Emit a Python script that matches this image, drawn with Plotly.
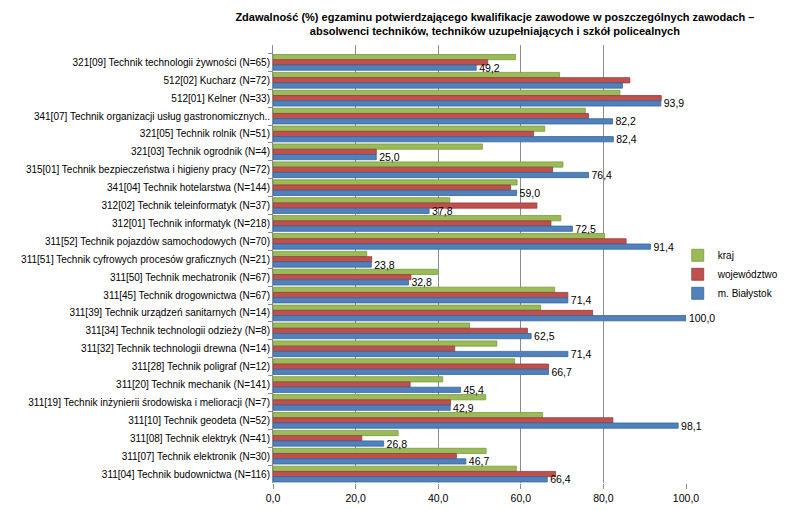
import plotly.graph_objects as go

categories = [
    "321[09] Technik technologii żywności (N=65)",
    "512[02] Kucharz (N=72)",
    "512[01] Kelner (N=33)",
    "341[07] Technik organizacji usług gastronomicznych..",
    "321[05] Technik rolnik (N=51)",
    "321[03] Technik ogrodnik (N=4)",
    "315[01] Technik bezpieczeństwa i higieny pracy (N=72)",
    "341[04] Technik hotelarstwa (N=144)",
    "312[02] Technik teleinformatyk (N=37)",
    "312[01] Technik informatyk (N=218)",
    "311[52] Technik pojazdów samochodowych (N=70)",
    "311[51] Technik cyfrowych procesów graficznych (N=21)",
    "311[50] Technik mechatronik (N=67)",
    "311[45] Technik drogownictwa (N=67)",
    "311[39] Technik urządzeń sanitarnych (N=14)",
    "311[34] Technik technologii odzieży (N=8)",
    "311[32] Technik technologii drewna (N=14)",
    "311[28] Technik poligraf (N=12)",
    "311[20] Technik mechanik (N=141)",
    "311[19] Technik inżynierii środowiska i melioracji (N=7)",
    "311[10] Technik geodeta (N=52)",
    "311[08] Technik elektryk (N=41)",
    "311[07] Technik elektronik (N=30)",
    "311[04] Technik budownictwa (N=116)",
]

kraj = [58.7, 69.4, 84.0, 75.6, 65.8, 50.7, 70.2, 59.1, 42.8, 69.7, 80.3, 22.7,
        39.8, 68.2, 64.8, 47.6, 54.2, 58.5, 41.1, 51.5, 65.3, 30.3, 51.6, 58.9]
wojewodztwo = [52.0, 86.4, 94.0, 76.4, 63.1, 25.0, 67.7, 57.5, 63.9, 67.3, 85.5, 23.9,
               33.4, 71.4, 77.4, 61.6, 44.0, 66.7, 33.2, 43.0, 82.3, 21.5, 44.4, 68.4]
bialystok = [49.2, 84.6, 93.9, 82.2, 82.4, 25.0, 76.4, 59.0, 37.8, 72.5, 91.4, 23.8,
             32.8, 71.4, 100.0, 62.5, 71.4, 66.7, 45.4, 42.9, 98.1, 26.8, 46.7, 66.4]
bialystok_labels = ["49,2", "", "93,9", "82,2", "82,4", "25,0", "76,4", "59,0", "37,8",
                    "72,5", "91,4", "23,8", "32,8", "71,4", "100,0", "62,5", "71,4",
                    "66,7", "45,4", "42,9", "98,1", "26,8", "46,7", "66,4"]

x_tick_vals = [0, 20, 40, 60, 80, 100]
x_tick_text = ["0,0", "20,0", "40,0", "60,0", "80,0", "100,0"]

FONT = "Liberation Sans, Arial, sans-serif"

fig = go.Figure()
fig.add_trace(go.Bar(
    y=categories, x=kraj, orientation="h", name="kraj",
    marker=dict(color="#9BBB59", line=dict(color="#7A9A3C", width=0.8)),
))
fig.add_trace(go.Bar(
    y=categories, x=wojewodztwo, orientation="h", name="województwo",
    marker=dict(color="#C0504D", line=dict(color="#963C3A", width=0.8)),
))
fig.add_trace(go.Bar(
    y=categories, x=bialystok, orientation="h", name="m. Białystok",
    marker=dict(color="#4F81BD", line=dict(color="#3A6599", width=0.8)),
    text=bialystok_labels, texttemplate="\u00a0%{text}",
    textposition="outside", cliponaxis=False,
    constraintext="none", textangle=0,
    textfont=dict(family=FONT, size=10.5, color="#000000"),
))

fig.update_layout(
    width=784, height=502,
    paper_bgcolor="white", plot_bgcolor="white",
    barmode="group", bargap=0.12, bargroupgap=0.0,
    margin=dict(l=265, r=106, t=37, b=27, autoexpand=False),
    font=dict(family=FONT, size=10, color="#000000"),
    title=dict(
        text="Zdawalność (%) egzaminu potwierdzającego kwalifikacje zawodowe w poszczególnych zawodach –<br>absolwenci techników, techników uzupełniających i szkół policealnych",
        x=0.621, xanchor="center", xref="container",
        y=0.975, yanchor="middle", yref="container",
        font=dict(family=FONT, size=11, color="#000000", weight="bold"),
    ),
    legend=dict(
        x=0.98, y=0.553, xanchor="left", yanchor="top",
        font=dict(family=FONT, size=10, color="#000000"),
        bgcolor="rgba(0,0,0,0)", itemwidth=30, tracegroupgap=6,
    ),
    showlegend=True,
)
fig.update_xaxes(
    range=[0, 100], tickvals=x_tick_vals, ticktext=x_tick_text,
    showgrid=True, gridcolor="#8C8C8C", gridwidth=1,
    zeroline=False, showline=False,
    ticks="outside", ticklen=5, tickcolor="#8C8C8C",
    tickfont=dict(family=FONT, size=10.5, color="#000000"),
)
fig.update_yaxes(
    range=[23.5, -0.97], showgrid=False, zeroline=False,
    showline=True, linecolor="#8C8C8C", linewidth=1,
    ticks="outside", ticklen=4, tickcolor="#8C8C8C", tickson="boundaries",
    tickfont=dict(family=FONT, size=10, color="#000000"),
)

fig.write_html("out.html")
